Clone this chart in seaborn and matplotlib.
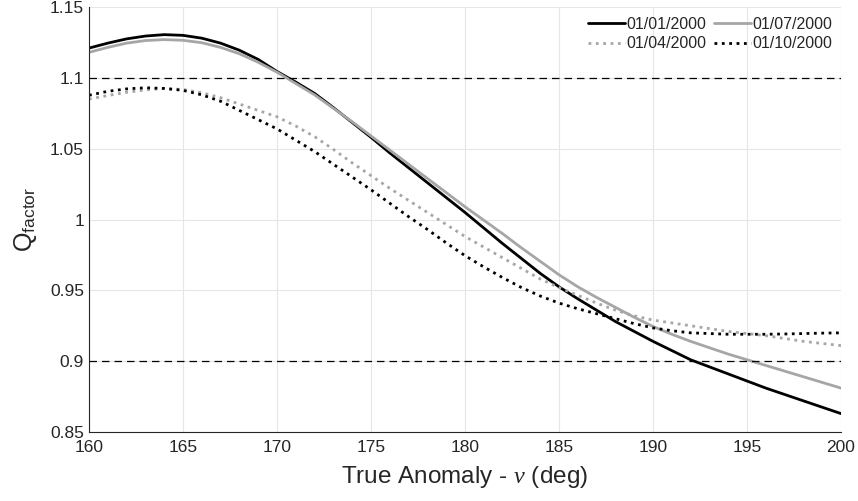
import pandas as pd
import matplotlib
matplotlib.use('Agg')
import matplotlib.pyplot as plt
import seaborn as sns

nu = list(range(160, 201))

q_jan = [1.121, 1.1245, 1.1275, 1.1295, 1.1305, 1.130, 1.128, 1.1245, 1.1195, 1.113,
         1.1045, 1.097, 1.089, 1.079, 1.0685, 1.058, 1.047, 1.0365, 1.026, 1.0155,
         1.005, 0.994, 0.983, 0.9725, 0.962, 0.9525, 0.944, 0.936, 0.928, 0.921,
         0.914, 0.9075, 0.901, 0.896, 0.891, 0.886, 0.881, 0.8765, 0.872, 0.8675,
         0.863]
q_apr = [1.085, 1.0875, 1.0898, 1.0915, 1.0925, 1.0918, 1.0895, 1.086, 1.0815, 1.077,
         1.0725, 1.066, 1.0585, 1.0495, 1.040, 1.031, 1.022, 1.0135, 1.005, 0.9965,
         0.988, 0.9805, 0.973, 0.9655, 0.958, 0.952, 0.9465, 0.941, 0.936, 0.932,
         0.929, 0.927, 0.925, 0.923, 0.921, 0.9195, 0.918, 0.916, 0.914, 0.9125,
         0.911]
q_jul = [1.118, 1.1215, 1.1245, 1.1263, 1.127, 1.1265, 1.1248, 1.1215, 1.117, 1.111,
         1.104, 1.096, 1.088, 1.0785, 1.069, 1.059, 1.049, 1.039, 1.029, 1.019,
         1.009, 0.9995, 0.990, 0.980, 0.9705, 0.961, 0.9525, 0.945, 0.938, 0.931,
         0.9245, 0.919, 0.914, 0.9095, 0.905, 0.901, 0.897, 0.893, 0.889, 0.885,
         0.881]
q_oct = [1.0877, 1.0905, 1.0922, 1.093, 1.0925, 1.0912, 1.088, 1.0835, 1.077, 1.0705,
         1.064, 1.056, 1.048, 1.039, 1.030, 1.021, 1.0115, 1.002, 0.993, 0.9835,
         0.9745, 0.9665, 0.959, 0.952, 0.946, 0.941, 0.937, 0.9335, 0.930, 0.9265,
         0.9235, 0.9215, 0.920, 0.9195, 0.919, 0.919, 0.919, 0.9192, 0.9195, 0.9198,
         0.920]

dates = ['01/01/2000', '01/04/2000', '01/07/2000', '01/10/2000']
series = [q_jan, q_apr, q_jul, q_oct]
colors = ['black', '#a6a6a6', '#a6a6a6', 'black']
styles = ['-', ':', '-', ':']
limits = [1.1, 0.9]

sns.set_style('white')
plt.rcParams['font.family'] = ['Liberation Sans', 'DejaVu Sans']
plt.rcParams['mathtext.fontset'] = 'custom'
plt.rcParams['mathtext.rm'] = 'Liberation Sans'
plt.rcParams['mathtext.it'] = 'Liberation Serif:italic'

fig = plt.figure(figsize=(8.58, 5.01), dpi=100)
ax = fig.add_axes([0.1037, 0.1377, 0.8765, 0.8483])

for d, q, c, ls in zip(dates, series, colors, styles):
    df = pd.DataFrame({'nu': nu, 'Q': q})
    sns.lineplot(data=df, x='nu', y='Q', ax=ax, color=c, linestyle=ls,
                 linewidth=2, label=d)

for v in limits:
    ax.axhline(v, color='black', linestyle='--', linewidth=0.9, dashes=(6, 4))

ax.set_xlim(160, 200)
ax.set_ylim(0.85, 1.15)
ax.set_xticks(range(160, 201, 5))
ax.set_yticks([0.85, 0.9, 0.95, 1, 1.05, 1.1, 1.15])
ax.set_yticklabels(['0.85', '0.9', '0.95', '1', '1.05', '1.1', '1.15'])
ax.grid(True, color='#e6e6e6', linewidth=0.8)
ax.tick_params(direction='in', length=5, width=0.8, color='#262626',
               labelsize=12.5, labelcolor='#262626')
ax.tick_params(axis='x', pad=6)
for s in ['top', 'right']:
    ax.spines[s].set_visible(False)
for s in ['left', 'bottom']:
    ax.spines[s].set_color('#262626')
    ax.spines[s].set_linewidth(0.8)

ax.set_xlabel(r'True Anomaly - $\nu$ (deg)', fontsize=17.5, color='#262626',
              labelpad=6)
ax.set_ylabel(r'Q$_{\mathrm{factor}}$', fontsize=18, color='#262626', labelpad=8)

handles, labels = ax.get_legend_handles_labels()
ax.legend(handles, labels, ncol=2, loc='upper right', frameon=False,
          bbox_to_anchor=(0.996, 0.9906),
          fontsize=11.5, handlelength=2.3, columnspacing=0.5,
          handletextpad=0.1, labelspacing=0.3, borderaxespad=0.15,
          borderpad=0.2)

plt.savefig('out.png', dpi=100)
